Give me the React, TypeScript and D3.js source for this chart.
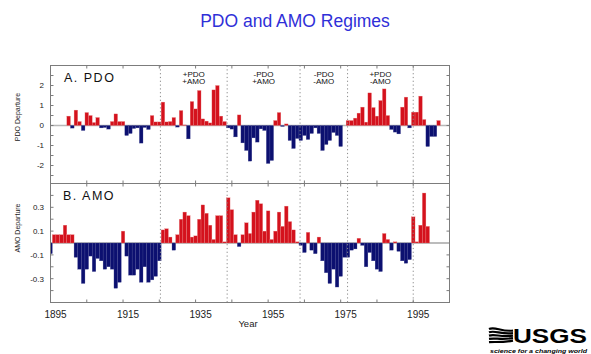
import { useEffect, useRef } from 'react'
import * as d3 from 'd3'

// annual PDO index, 1900-2002
const pdoStart = 1900
const pdoValues = [
  0.47, -0.13, 0.77, 0.2, -0.25, 0.65, 0.5, 0.15, 0.4, -0.12,
  -0.1, -0.18, 0.2, 0.58, 0.2, 0.2, -0.5, -0.4, -0.15, -0.12,
  -0.88, -0.1, -0.2, 0.5, 0.18, 0.18, 1.17, 0.18, 0.2, 0.4,
  -0.08, 0.75, 0.03, -0.67, 1.2, 0.83, 1.75, 0.33, 0.22, 0.13,
  1.78, 2.0, 0.47, 0.2, -0.12, -0.18, -0.57, 0.53, -0.87, -1.25,
  -1.78, -0.62, -0.83, -0.17, -0.25, -1.9, -1.75, 0.25, 0.65, -0.05,
  0.08, -0.75, -1.15, -0.65, -0.75, -0.5, -0.7, -0.4, -0.12, -0.4,
  -1.25, -0.95, -0.75, -0.35, -0.5, -1.05, 0, 0.25, 0.25, 0.37,
  0.62, 0.92, 0.17, 1.63, 0.9, 0.47, 1.25, 1.83, 0.5, -0.2,
  -0.33, -0.42, 0.92, 1.42, -0.12, 0.67, 0.67, 1.47, 0.3, -1.05,
  -0.55, -0.55, 0.25,
]

// annual AMO index, 1895-1999
const amoStart = 1895
const amoValues = [
  -0.09, 0.07, 0.07, 0.07, 0.15, 0.07, 0.07, -0.12, -0.22, -0.34,
  -0.22, -0.11, -0.24, -0.13, -0.15, -0.22, -0.2, -0.22, -0.38, -0.33,
  0.1, -0.11, -0.27, -0.27, -0.22, -0.33, -0.2, -0.33, -0.31, -0.28,
  -0.15, 0.11, 0.12, 0.05, -0.06, 0.07, 0.2, 0.26, 0.23, 0.05,
  0.06, 0.2, 0.32, 0.25, 0.15, 0.03, 0.23, 0.23, 0.01, 0.38,
  0.28, 0.07, -0.03, 0.07, 0.17, 0.08, 0.26, 0.36, 0.33, 0.1,
  0.27, 0.03, 0.1, 0.26, 0.14, 0.31, 0.18, 0.11, 0.01, -0.02,
  -0.08, 0.09, -0.06, -0.09, 0.05, -0.15, -0.25, -0.34, -0.22, -0.37,
  -0.28, -0.12, -0.12, -0.06, -0.05, 0.04, -0.02, -0.2, -0.08, -0.15,
  -0.22, -0.24, 0.08, 0.03, -0.06, 0.01, -0.07, -0.15, -0.17, -0.14,
  0.22, 0.01, 0.15, 0.42, 0.14,
]

const regimeShifts = [1925.3, 1943.7, 1963.8, 1976.9, 1995]
const regimeNames = [
  ['+PDO', '+AMO'],
  ['-PDO', '+AMO'],
  ['-PDO', '-AMO'],
  ['+PDO', '-AMO'],
]

const xTicks = [1905, 1915, 1925, 1935, 1945, 1955, 1965, 1975, 1985, 1995]
const xLabels = [1895, 1915, 1935, 1955, 1975, 1995]
const pdoTicks = [-2.5, -2, -1.5, -1, -0.5, 0, 0.5, 1, 1.5, 2, 2.5]
const pdoLabels = [-2, -1, 0, 1, 2]
const amoTicks = [-0.4, -0.3, -0.2, -0.1, 0.1, 0.2, 0.3, 0.4]
const amoLabels = [-0.3, -0.1, 0.1, 0.3]

const RED = '#d4121d'
const BLUE = '#0c1070'
const FONT = '"Liberation Sans", Arial, Helvetica, sans-serif'

export default function App() {
  const ref = useRef<HTMLDivElement>(null)

  useEffect(() => {
    if (!ref.current) return
    const container = ref.current
    container.innerHTML = ''

    const W = 591, H = 354
    const left = 50.5, right = 449.5, top = 65.5, mid = 183.5, bottom = 302.5

    const svg = d3.select(container).append('svg')
      .attr('width', W).attr('height', H)
      .style('display', 'block')
      .style('font-family', FONT)

    svg.append('rect').attr('width', W).attr('height', H).attr('fill', '#fff')

    const x = d3.scaleLinear().domain([1895, 2005]).range([left, right])
    const yA = d3.scaleLinear().domain([-2.9, 3]).range([mid, top])
    const yB = d3.scaleLinear().domain([-0.5, 0.5]).range([bottom, mid])

    svg.append('defs').append('clipPath').attr('id', 'plotclip')
      .append('rect').attr('x', left).attr('y', top).attr('width', right - left).attr('height', bottom - top)

    // title
    svg.append('text')
      .attr('x', 295).attr('y', 27)
      .attr('text-anchor', 'middle')
      .style('font-size', '17.5px')
      .style('fill', '#2f2fd8')
      .text('PDO and AMO Regimes')

    const plot = svg.append('g').attr('clip-path', 'url(#plotclip)')

    // zero lines
    plot.append('line').attr('x1', left).attr('x2', right).attr('y1', yA(0)).attr('y2', yA(0))
      .attr('stroke', '#b8b8b8').attr('stroke-width', 1.5)
    plot.append('line').attr('x1', left).attr('x2', right).attr('y1', yB(0)).attr('y2', yB(0))
      .attr('stroke', '#7a7a7a').attr('stroke-width', 1.2)

    const drawBars = (vals: number[], start: number, y: d3.ScaleLinear<number, number>) => {
      plot.append('g').selectAll('rect').data(vals).join('rect')
        .attr('x', (_, i) => x(start + i - 0.5))
        .attr('width', (_, i) => x(start + i + 0.5) - x(start + i - 0.5))
        .attr('y', d => (d >= 0 ? y(d) : y(0)))
        .attr('height', d => Math.abs(y(d) - y(0)))
        .attr('fill', d => (d >= 0 ? RED : BLUE))
        .attr('stroke', d => (d >= 0 ? '#ec8a8a' : '#4a4e96'))
        .attr('stroke-width', 0.3)
    }
    drawBars(pdoValues, pdoStart, yA)
    drawBars(amoValues, amoStart, yB)

    // regime shift lines
    svg.append('g').selectAll('line').data(regimeShifts).join('line')
      .attr('x1', d => x(d)).attr('x2', d => x(d))
      .attr('y1', top).attr('y2', bottom)
      .attr('stroke', '#8a8a8a').attr('stroke-width', 1)
      .attr('stroke-dasharray', '1.2,2.6')

    // regime labels
    regimeNames.forEach((names, i) => {
      const cx = x((regimeShifts[i] + regimeShifts[i + 1]) / 2)
      names.forEach((n, j) => {
        svg.append('text')
          .attr('x', cx).attr('y', 76.5 + j * 7.5)
          .attr('text-anchor', 'middle')
          .style('font-size', '8px')
          .style('fill', '#111')
          .text(n)
      })
    })

    // frame
    const frame = svg.append('g').attr('stroke', '#7c7c7c').attr('stroke-width', 1).attr('fill', 'none')
    frame.append('rect').attr('x', left).attr('y', top).attr('width', right - left).attr('height', bottom - top)
    frame.append('line').attr('x1', left).attr('x2', right).attr('y1', mid).attr('y2', mid)

    // x ticks (inside, on every horizontal edge)
    const tk = 3
    xTicks.forEach(t => {
      const xx = x(t)
      ;[[top, tk], [mid, -tk], [mid, tk], [bottom, -tk]].forEach(([yy, d]) => {
        frame.append('line').attr('x1', xx).attr('x2', xx).attr('y1', yy).attr('y2', yy + d)
      })
    })

    // y ticks
    const yTicks = (ticks: number[], y: d3.ScaleLinear<number, number>) => {
      ticks.forEach(t => {
        frame.append('line').attr('x1', left).attr('x2', left + tk).attr('y1', y(t)).attr('y2', y(t))
        frame.append('line').attr('x1', right - tk).attr('x2', right).attr('y1', y(t)).attr('y2', y(t))
      })
    }
    yTicks(pdoTicks, yA)
    yTicks(amoTicks, yB)

    const yLabels = (labels: number[], y: d3.ScaleLinear<number, number>) => {
      labels.forEach(l => {
        svg.append('text')
          .attr('x', 44).attr('y', y(l) + 2.8)
          .attr('text-anchor', 'end')
          .style('font-size', '8px')
          .style('fill', '#222')
          .text(String(l))
      })
    }
    yLabels(pdoLabels, yA)
    yLabels(amoLabels, yB)

    // x labels
    xLabels.forEach(l => {
      svg.append('text')
        .attr('x', x(l) + 5).attr('y', 318)
        .attr('text-anchor', 'middle')
        .style('font-size', '10px')
        .style('fill', '#222')
        .text(String(l))
    })

    svg.append('text')
      .attr('x', 248).attr('y', 327)
      .attr('text-anchor', 'middle')
      .style('font-size', '9.5px')
      .style('fill', '#222')
      .text('Year')

    // axis titles
    ;[['PDO Departure', 117], ['AMO Departure', 228]].forEach(([t, cy]) => {
      svg.append('text')
        .attr('transform', `translate(20,${cy}) rotate(-90)`)
        .attr('text-anchor', 'middle')
        .style('font-size', '7px')
        .style('fill', '#222')
        .text(t as string)
    })

    // panel labels
    svg.append('text').attr('x', 64).attr('y', 82)
      .style('font-size', '12.5px').style('letter-spacing', '1.5px').style('fill', '#111')
      .text('A. PDO')
    svg.append('text').attr('x', 63).attr('y', 200)
      .style('font-size', '12.5px').style('letter-spacing', '1.5px').style('fill', '#111')
      .text('B. AMO')

    // USGS logo
    const logo = svg.append('g').attr('transform', 'translate(489,327)')
    d3.range(5).forEach(i => {
      const y0 = 2 + i * 3.3
      logo.append('path')
        .attr('d', `M0,${y0} C6,${y0 - 3 + i * 0.6} 12,${y0 + 3 - i * 0.6} 24,${y0 + (2 - i) * 0.8}`)
        .attr('fill', 'none').attr('stroke', '#000').attr('stroke-width', 2.2)
    })
    svg.append('text')
      .attr('x', 513).attr('y', 343)
      .attr('textLength', 74).attr('lengthAdjust', 'spacingAndGlyphs')
      .style('font-size', '20px').style('font-weight', '900')
      .style('fill', '#000')
      .text('USGS')
    svg.append('text')
      .attr('x', 490).attr('y', 353)
      .attr('textLength', 97).attr('lengthAdjust', 'spacingAndGlyphs')
      .style('font-size', '5.5px').style('font-style', 'italic').style('font-weight', 'bold')
      .style('fill', '#000')
      .text('science for a changing world')

    return () => { container.innerHTML = '' }
  }, [])

  return <div ref={ref} style={{ position: 'absolute', left: 0, top: 0, width: 591, height: 354 }} />
}
